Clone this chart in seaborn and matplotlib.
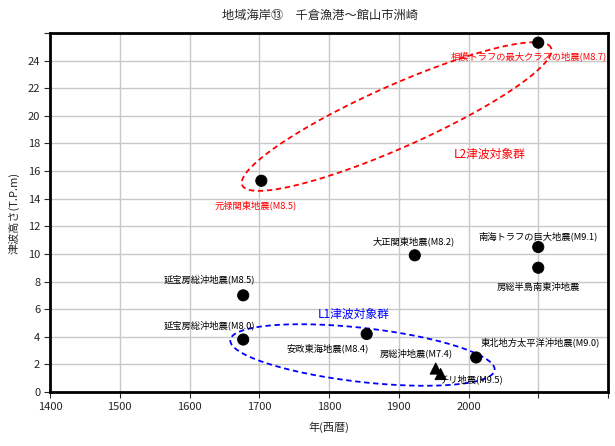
import numpy as np
import pandas as pd
import matplotlib
matplotlib.use("Agg")
import matplotlib.pyplot as plt
import seaborn as sns

# -------------------------
# Data
# -------------------------
years = [1703, 2100, 2100, 2100, 1923, 1677, 1677, 1854, 2011, 1953, 1960]
heights = [15.3, 25.3, 10.5, 9.0, 9.9, 7.0, 3.8, 4.2, 2.5, 1.7, 1.3]
kinds = ["実績", "想定", "想定", "想定", "実績", "実績", "実績", "実績", "実績", "遠地", "遠地"]
labels = [
    "元禄関東地震(M8.5)",
    "相模トラフの最大クラスの地震(M8.7)",
    "南海トラフの巨大地震(M9.1)",
    "房総半島南東沖地震",
    "大正関東地震(M8.2)",
    "延宝房総沖地震(M8.5)",
    "延宝房総沖地震(M8.0)",
    "安政東海地震(M8.4)",
    "東北地方太平洋沖地震(M9.0)",
    "房総沖地震(M7.4)",
    "チリ地震(M9.5)",
]
label_colors = ["red", "red"] + ["black"] * 9
# label offsets in points (dx, dy)
label_offsets = [(-4, -18), (-7, -10), (0, 8), (0, -14), (-1, 10), (-24, 11.5),
                 (-24, 10), (-28, -10), (46, 11), (-14, 11), (22, -4)]

x_ticks = [1400, 1500, 1600, 1700, 1800, 1900, 2000]
y_ticks = list(range(0, 26, 2))

df = pd.DataFrame({"year": years, "height": heights, "kind": kinds})

sns.set_style("white")
plt.rcParams["font.family"] = ["Noto Sans CJK JP", "DejaVu Sans"]

fig = plt.figure(figsize=(6.15, 4.46), dpi=100)
ax = fig.add_axes([50 / 615, 1 - 392 / 446, 558 / 615, 359 / 446])

ax.set_xlim(1400, 2200)
ax.set_ylim(0, 26)
ax.set_xticks(list(range(1400, 2201, 100)))
ax.set_xticklabels([str(t) if t in x_ticks else "" for t in range(1400, 2201, 100)])
ax.set_yticks(list(range(0, 27, 2)))
ax.set_yticklabels([str(t) if t in y_ticks else "" for t in range(0, 27, 2)])
ax.grid(True, color="#c8c8c8", linewidth=1.0)
ax.set_axisbelow(True)
for s in ax.spines.values():
    s.set_linewidth(2.0)
    s.set_color("black")
ax.tick_params(axis="both", labelsize=8, length=4, width=0.8, direction="out",
               bottom=True, left=True, pad=3)

sns.scatterplot(data=df, x="year", y="height", style="kind",
                markers={"実績": "o", "想定": "o", "遠地": "^"},
                color="black", s=65, edgecolor="black", legend=False, ax=ax, zorder=3)

for x, y, t, c, (dx, dy) in zip(years, heights, labels, label_colors, label_offsets):
    ax.annotate(t, (x, y), xytext=(dx, dy), textcoords="offset points",
                ha="center", va="center", fontsize=6.7, color=c)

# -------------------------
# Ellipses (shape in pixel space, mapped back to data)
# -------------------------
px_x = 558 / 800   # pixels per year
px_y = 359 / 26    # pixels per metre


def ellipse(cx, cy, a, b, ang, color):
    t = np.linspace(0, 2 * np.pi, 300)
    r = np.deg2rad(ang)
    u = a * np.cos(t)
    v = b * np.sin(t)
    ex = u * np.cos(r) - v * np.sin(r)
    ey = u * np.sin(r) + v * np.cos(r)
    ax.plot(cx + ex / px_x, cy + ey / px_y, color=color, linestyle=(0, (3, 2)),
            linewidth=1.3, zorder=2)


ellipse(1897, 19.95, 169, 31, 24, "red")
ellipse(1848, 2.68, 133, 27, -6.5, "blue")

ax.text(2030, 17.2, "L2津波対象群", color="red", fontsize=8.5, ha="center", va="center")
ax.text(1835, 5.6, "L1津波対象群", color="blue", fontsize=8.5, ha="center", va="center")

ax.set_xlabel("年(西暦)", fontsize=8, labelpad=7)
ax.set_ylabel("津波高さ(T.P.m)", fontsize=8, labelpad=6)
fig.text(320 / 615, 1 - 15 / 446, "地域海岸⑬　千倉漁港～館山市洲崎", ha="center",
         va="center", fontsize=8.8)

fig.savefig("out.png", dpi=100)
